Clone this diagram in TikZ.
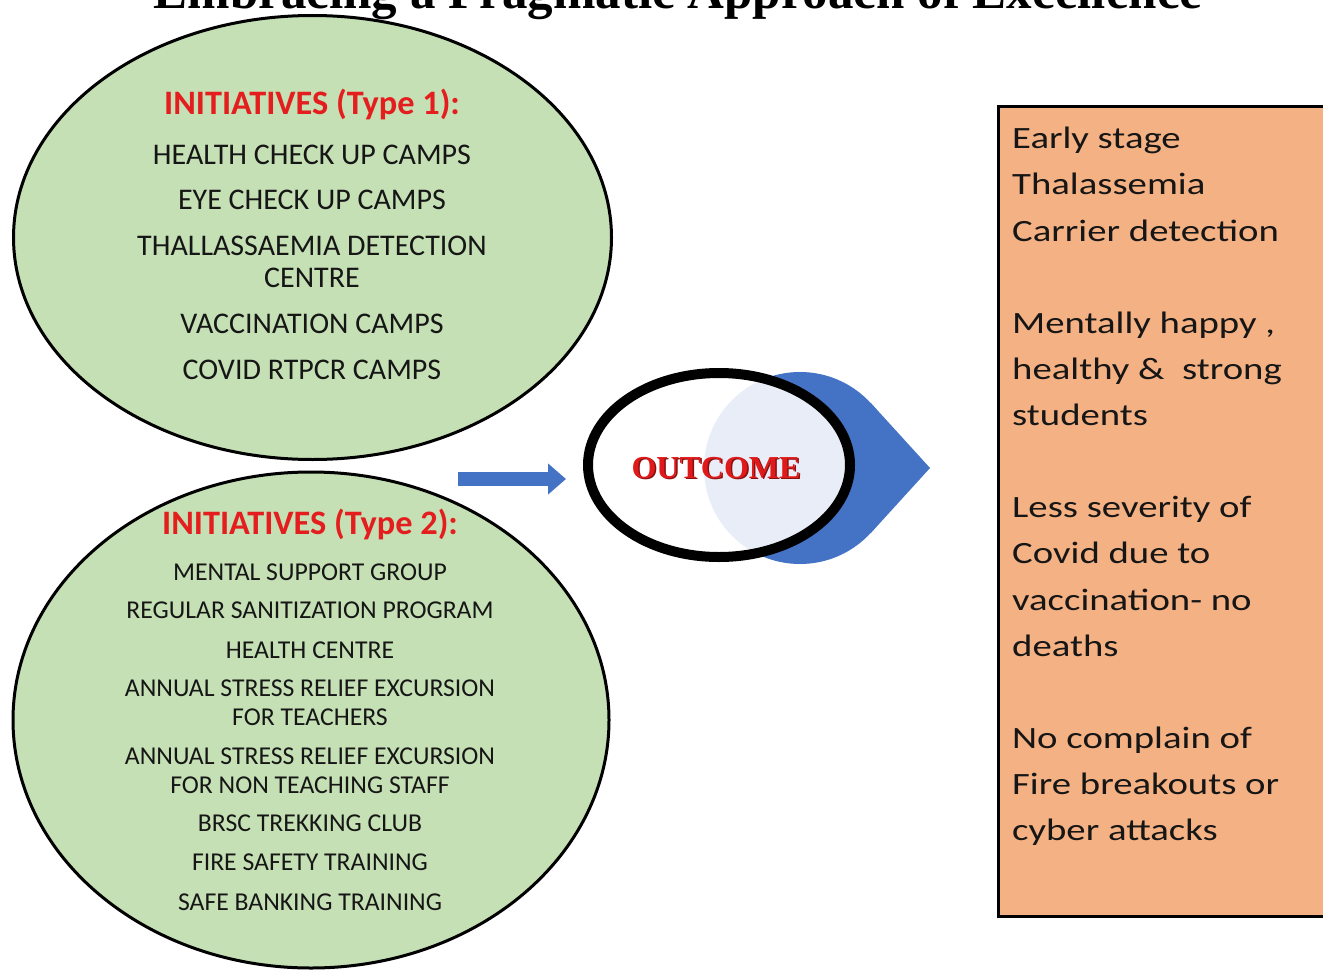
\documentclass[tikz,border=0pt]{standalone}
\usepackage{fontspec}
\setmainfont{Carlito}
\newfontfamily\boxfont[FakeStretch=1.25]{Carlito}
\newfontfamily\titlefont{Liberation Serif}
\usetikzlibrary{arrows.meta,shapes.geometric}
\definecolor{leafgreen}{HTML}{C5E0B4}
\definecolor{peach}{HTML}{F4B183}
\definecolor{ppblue}{HTML}{4472C4}
\definecolor{headred}{HTML}{E41E1E}
\definecolor{inkdark}{HTML}{161616}
\definecolor{outred}{HTML}{E01A1A}
\definecolor{outshadow}{HTML}{8A1010}
\tikzset{
  blob/.style={ellipse, draw=black, line width=3pt, fill=leafgreen, inner sep=0pt},
  headline/.style={anchor=base, text=headred, font=\bfseries\fontsize{34.3}{36}\selectfont, inner sep=0pt},
  itemA/.style={anchor=base, text=inkdark, font=\fontsize{30}{32}\selectfont, inner sep=0pt},
  itemB/.style={anchor=base, text=inkdark, font=\fontsize{25.7}{27}\selectfont, inner sep=0pt},
  boxline/.style={anchor=base west, text=inkdark, font=\boxfont\fontsize{31}{34}\selectfont, inner sep=0pt},
}
\begin{document}
\begin{tikzpicture}[x=1pt,y=-1pt]
\useasboundingbox (0,0) rectangle (1323,974);
\clip (0,0) rectangle (1323,974);
\fill[white] (0,0) rectangle (1323,974);
% title (cut off at the top, as in the reference)
\node[anchor=base, inner sep=0pt, font=\titlefont\bfseries\fontsize{51}{53}\selectfont] (title) at (678,9) {Embracing a Pragmatic Approach of Excellence};
% ellipses
\node[blob, minimum width=598pt, minimum height=444pt] (e1) at (312.5,237.5) {};
\node[blob, minimum width=596pt, minimum height=496pt] (e2) at (311,720) {};
% type 1 text
\node[headline] (h1) at (312,114) {INITIATIVES (Type 1):};
\foreach \yy/\tx [count=\i] in {164/HEALTH CHECK UP CAMPS, 209/EYE CHECK UP CAMPS, 255/THALLASSAEMIA DETECTION, 287/CENTRE, 333/VACCINATION CAMPS, 379/COVID RTPCR CAMPS}
  \node[itemA] (a\i) at (312,\yy) {\tx};
% type 2 text
\node[headline] (h2) at (310,534) {INITIATIVES (Type 2):};
\foreach \yy/\tx [count=\i] in {580/MENTAL SUPPORT GROUP, 618/REGULAR SANITIZATION PROGRAM, 658/HEALTH CENTRE, 696/ANNUAL STRESS RELIEF EXCURSION, 725/FOR TEACHERS, 764/ANNUAL STRESS RELIEF EXCURSION, 793/FOR NON TEACHING STAFF, 831/BRSC TREKKING CLUB, 870/FIRE SAFETY TRAINING, 910/SAFE BANKING TRAINING}
  \node[itemB] (b\i) at (310,\yy) {\tx};
% outcome: blue drop behind a translucent ellipse
\coordinate (dropc) at (800,468);
\fill[ppblue] (dropc) circle (96pt);
\fill[ppblue] (930,468) -- (871,403.2) -- (800,468) -- (871,532.8) -- cycle;
\node[ellipse, minimum width=262pt, minimum height=184pt, fill=white, fill opacity=0.88, inner sep=0pt] (outfill) at (719,465) {};
\node[ellipse, minimum width=262pt, minimum height=184pt, draw=black, line width=10pt, inner sep=0pt] (out) at (719,465) {};
\node[text=outshadow, font=\titlefont\bfseries\fontsize{32}{34}\selectfont, inner sep=0pt] at (717.5,469.5) {OUTCOME};
\node[text=outred, font=\titlefont\bfseries\fontsize{32}{34}\selectfont, inner sep=0pt] (outtxt) at (716,468) {OUTCOME};
% arrow
\coordinate (arrstart) at (458,479);
\draw[ppblue, line width=14pt, -{Triangle[length=18pt,width=30pt]}] (arrstart) -- ([xshift=-17pt]out.west |- arrstart);
% result box
\node[draw=black, line width=3pt, fill=peach, minimum width=326pt, minimum height=810pt, inner sep=0pt, anchor=north west] (res) at (997,105) {};
\foreach \yy/\tx [count=\i] in {148/Early stage, 194/Thalassemia, 241/Carrier detection, 333/{Mentally happy ,}, 379/{healthy \&\ \ strong}, 425/students, 517/Less severity of, 563/Covid due to, 610/vaccination- no, 656/deaths, 748/No complain of, 794/Fire breakouts or, 840/cyber attacks}
  \node[boxline] (r\i) at (1012,\yy) {\tx};
\end{tikzpicture}
\end{document}
